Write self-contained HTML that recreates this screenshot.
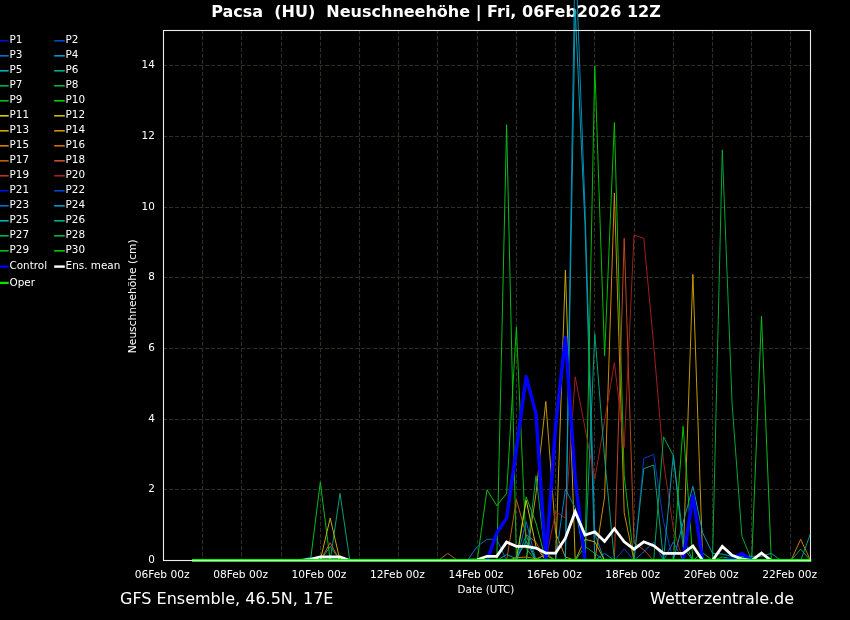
<!DOCTYPE html><html><head><meta charset="utf-8"><title>Pacsa (HU) Neuschneehöhe</title>
<style>html,body{margin:0;padding:0;background:#000;}svg{display:block}text{font-family:"DejaVu Sans","Liberation Sans",sans-serif;fill:#fff}</style></head><body>
<svg width="850" height="620" viewBox="0 0 850 620">
<rect width="850" height="620" fill="#000"/>
<path d="M202.5 560.5V30.5M241.5 560.5V30.5M281.5 560.5V30.5M320.5 560.5V30.5M359.5 560.5V30.5M398.5 560.5V30.5M437.5 560.5V30.5M477.5 560.5V30.5M516.5 560.5V30.5M555.5 560.5V30.5M594.5 560.5V30.5M634.5 560.5V30.5M673.5 560.5V30.5M712.5 560.5V30.5M751.5 560.5V30.5M790.5 560.5V30.5" stroke="#2e2e21" stroke-width="1.1" stroke-dasharray="4.15 1.85" stroke-dashoffset="1.4" fill="none"/>
<path d="M163.5 489.5H810.5M163.5 419.5H810.5M163.5 348.5H810.5M163.5 277.5H810.5M163.5 207.5H810.5M163.5 136.5H810.5M163.5 65.5H810.5" stroke="#2e2e21" stroke-width="1.1" stroke-dasharray="4.15 1.85" stroke-dashoffset="0.5" fill="none"/>
<text x="436" y="17" font-size="16" font-weight="bold" text-anchor="middle" xml:space="preserve">Pacsa  (HU)  Neuschneehöhe | Fri, 06Feb2026 12Z</text>
<g fill="none" stroke-width="0.95" stroke-linejoin="miter" stroke-linecap="square">
<path d="M310.5 560.5 L320.3 482.1 L330.2 560.5" stroke="#08c420"/>
<path d="M330.2 560.5 L340.0 493.4 L349.8 560.5" stroke="#00a880"/>
<path d="M320.3 560.5 L330.2 518.1 L340.0 560.5" stroke="#d0b000"/>
<path d="M320.3 560.5 L330.2 542.8 L340.0 560.5" stroke="#c86010"/>
<path d="M320.3 560.5 L330.2 546.4 L340.0 560.5" stroke="#00ac50"/>
<path d="M300.7 560.5 L310.5 557.0 L320.3 560.5" stroke="#0070d0"/>
<path d="M438.0 560.5 L447.8 553.4 L457.6 560.5" stroke="#c86010"/>
<path d="M496.8 560.5 L506.6 124.8 L516.4 560.5" stroke="#08c420"/>
<path d="M477.2 560.5 L487.0 489.8 L496.8 505.7 L506.6 493.4 L516.4 327.3 L526.2 548.5 L536.0 560.5" stroke="#00c800"/>
<path d="M526.2 560.5 L536.0 493.4 L545.8 401.5 L555.6 532.9 L565.4 557.0 L575.2 560.5" stroke="#cca000"/>
<path d="M555.6 560.5 L565.4 270.1 L575.2 560.5" stroke="#d0b000"/>
<path d="M565.4 560.5 L575.2 -54.3 L585.0 208.2 L594.8 534.0 L604.6 560.5" stroke="#008cc8"/>
<path d="M565.4 560.5 L575.2 9.3 L585.0 224.8 L594.8 560.5" stroke="#00a4b4"/>
<path d="M585.0 560.5 L594.8 65.8 L604.6 355.6 L614.4 122.4 L624.2 475.7 L634.0 560.5" stroke="#00c800"/>
<path d="M594.8 560.5 L604.6 496.9 L614.4 193.0 L624.2 512.8 L634.0 560.5" stroke="#d89000"/>
<path d="M614.4 560.5 L624.2 238.3 L634.0 542.8 L643.8 549.9 L653.7 560.5" stroke="#c84820"/>
<path d="M545.8 560.5 L555.6 511.7 L565.4 518.1 L575.2 376.8 L585.0 428.0 L594.8 479.2 L604.6 420.9 L614.4 362.6 L624.2 447.4 L634.0 235.1 L643.8 238.3 L653.7 345.0 L663.5 461.6 L673.3 528.7 L683.1 560.5" stroke="#a82020"/>
<path d="M585.0 560.5 L594.8 333.7 L604.6 458.0 L614.4 560.5" stroke="#00a880"/>
<path d="M683.1 560.5 L692.9 274.3 L702.7 560.5" stroke="#cca000"/>
<path d="M712.5 560.5 L722.3 149.9 L732.1 404.0 L741.9 536.1 L751.7 560.5" stroke="#00b038"/>
<path d="M751.7 560.5 L761.5 316.0 L771.3 560.5" stroke="#08c420"/>
<path d="M614.4 560.5 L624.2 548.8 L634.0 560.5 L643.8 458.4 L653.7 454.5 L663.5 521.6 L673.3 560.5" stroke="#0040d0"/>
<path d="M634.0 560.5 L643.8 468.6 L653.7 465.1 L663.5 560.5" stroke="#00a880"/>
<path d="M653.7 560.5 L663.5 436.8 L673.3 455.6 L683.1 537.9 L692.9 560.5" stroke="#00ac50"/>
<path d="M663.5 560.5 L673.3 454.9 L683.1 547.1 L692.9 560.5" stroke="#00a4b4"/>
<path d="M673.3 560.5 L683.1 522.7 L692.9 486.3 L702.7 532.9 L712.5 553.4 L722.3 554.1 L732.1 556.3 L741.9 556.3 L751.7 556.3 L761.5 556.3 L771.3 553.4 L781.1 560.5" stroke="#00a4b4"/>
<path d="M673.3 560.5 L683.1 426.2 L692.9 560.5" stroke="#00c800"/>
<path d="M692.9 560.5 L702.7 552.7 L712.5 560.5" stroke="#08c420"/>
<path d="M467.4 560.5 L477.2 546.4 L487.0 539.3 L496.8 539.3 L506.6 560.5" stroke="#0070d0"/>
<path d="M634.0 560.5 L643.8 551.7 L653.7 542.1 L663.5 560.5 L673.3 542.1 L683.1 560.5" stroke="#0070d0"/>
<path d="M790.9 560.5 L800.7 539.3 L810.5 560.5" stroke="#d88000"/>
<path d="M790.9 560.5 L800.7 549.2 L810.5 560.5" stroke="#00ac50"/>
<path d="M800.7 560.5 L810.5 533.6" stroke="#00a880"/>
<path d="M506.6 560.5 L516.4 499.7 L526.2 534.7 L536.0 542.1 L545.8 560.5" stroke="#c86010"/>
<path d="M516.4 560.5 L526.2 496.9 L536.0 523.0 L545.8 560.5" stroke="#08c420"/>
<path d="M526.2 560.5 L536.0 475.7 L545.8 560.5" stroke="#00ac50"/>
<path d="M516.4 560.5 L526.2 500.4 L536.0 546.4 L545.8 560.5" stroke="#d0cc00"/>
<path d="M516.4 560.5 L526.2 521.6 L536.0 560.5" stroke="#0070d0"/>
<path d="M516.4 560.5 L526.2 535.1 L536.0 560.5" stroke="#00a880"/>
<path d="M496.8 560.5 L506.6 554.5 L516.4 558.7 L526.2 541.1 L536.0 560.5 L545.8 553.4 L555.6 560.5" stroke="#00a4b4"/>
<path d="M506.6 560.5 L516.4 557.7 L526.2 557.0 L536.0 558.7 L545.8 555.2 L555.6 560.5" stroke="#d88000"/>
<path d="M555.6 560.5 L565.4 489.1 L575.2 507.9 L585.0 560.5" stroke="#008cc8"/>
<path d="M575.2 560.5 L585.0 539.3 L594.8 541.8 L604.6 560.5" stroke="#d0b000"/>
<path d="M575.2 560.5 L585.0 546.4 L594.8 553.4 L604.6 560.5" stroke="#00b038"/>
<path d="M594.8 560.5 L604.6 553.4 L614.4 560.5" stroke="#008cc8"/>
<path d="M712.5 560.5 L722.3 557.0 L732.1 558.7 L741.9 557.0 L751.7 560.5" stroke="#00ac50"/>
</g>
<path d="M487.0 560.5 L496.8 532.9 L506.6 518.1 L516.4 449.2 L526.2 376.8 L536.0 413.9 L545.8 560.5 L555.6 426.2 L565.4 337.2 L575.2 479.2 L585.0 560.5M683.1 560.5 L692.9 495.8 L702.7 560.5M722.3 560.5 L732.1 558.7 L741.9 553.4 L751.7 560.5" fill="none" stroke="#0000ff" stroke-width="3.4" stroke-linejoin="round"/>
<path d="M300.7 560.5 L310.5 559.4 L320.3 557.0 L330.2 557.0 L340.0 557.0 L349.8 560.5M467.4 560.5 L477.2 559.8 L487.0 556.3 L496.8 556.3 L506.6 542.1 L516.4 546.4 L526.2 546.4 L536.0 548.1 L545.8 553.1 L555.6 553.1 L565.4 538.2 L575.2 511.7 L585.0 535.1 L594.8 531.9 L604.6 541.4 L614.4 528.7 L624.2 541.8 L634.0 549.2 L643.8 541.8 L653.7 545.7 L663.5 553.4 L673.3 553.4 L683.1 553.4 L692.9 546.0 L702.7 560.5 L712.5 560.5 L722.3 546.4 L732.1 555.2 L741.9 559.1 L751.7 560.5 L761.5 553.1 L771.3 560.5 L781.1 560.5" fill="none" stroke="#ffffff" stroke-width="2.8" stroke-linejoin="miter"/>
<path d="M192.0 560.5H811.3" fill="none" stroke="#00f000" stroke-width="3.2"/>
<rect x="163.5" y="30.5" width="647.0" height="530.0" fill="none" stroke="#ececec" stroke-width="1.1"/>
<text x="154.8" y="563.1" font-size="10.4" text-anchor="end">0</text>
<text x="154.8" y="492.1" font-size="10.4" text-anchor="end">2</text>
<text x="154.8" y="422.1" font-size="10.4" text-anchor="end">4</text>
<text x="154.8" y="351.1" font-size="10.4" text-anchor="end">6</text>
<text x="154.8" y="280.1" font-size="10.4" text-anchor="end">8</text>
<text x="154.8" y="210.1" font-size="10.4" text-anchor="end">10</text>
<text x="154.8" y="139.1" font-size="10.4" text-anchor="end">12</text>
<text x="154.8" y="68.1" font-size="10.4" text-anchor="end">14</text>
<text x="162.2" y="578" font-size="10.65" text-anchor="middle">06Feb 00z</text>
<text x="240.6" y="578" font-size="10.65" text-anchor="middle">08Feb 00z</text>
<text x="319.0" y="578" font-size="10.65" text-anchor="middle">10Feb 00z</text>
<text x="397.5" y="578" font-size="10.65" text-anchor="middle">12Feb 00z</text>
<text x="475.9" y="578" font-size="10.65" text-anchor="middle">14Feb 00z</text>
<text x="554.3" y="578" font-size="10.65" text-anchor="middle">16Feb 00z</text>
<text x="632.7" y="578" font-size="10.65" text-anchor="middle">18Feb 00z</text>
<text x="711.2" y="578" font-size="10.65" text-anchor="middle">20Feb 00z</text>
<text x="789.6" y="578" font-size="10.65" text-anchor="middle">22Feb 00z</text>
<text x="486" y="593" font-size="10.4" text-anchor="middle">Date (UTC)</text>
<text transform="translate(136,296.3) rotate(-90)" font-size="10.65" text-anchor="middle">Neuschneehöhe (cm)</text>
<text x="120" y="604" font-size="16">GFS Ensemble, 46.5N, 17E</text>
<text x="650" y="604" font-size="16">Wetterzentrale.de</text>
<path d="M-2 40.8H8.7" stroke="#0010c8" stroke-width="1.6"/>
<text x="9.5" y="43.4" font-size="10.4">P1</text>
<path d="M54.2 40.8H64.8" stroke="#0048d0" stroke-width="1.6"/>
<text x="65.6" y="43.4" font-size="10.4">P2</text>
<path d="M-2 55.8H8.7" stroke="#0070d0" stroke-width="1.6"/>
<text x="9.5" y="58.4" font-size="10.4">P3</text>
<path d="M54.2 55.8H64.8" stroke="#0098d0" stroke-width="1.6"/>
<text x="65.6" y="58.4" font-size="10.4">P4</text>
<path d="M-2 70.8H8.7" stroke="#00b0c0" stroke-width="1.6"/>
<text x="9.5" y="73.4" font-size="10.4">P5</text>
<path d="M54.2 70.8H64.8" stroke="#00b088" stroke-width="1.6"/>
<text x="65.6" y="73.4" font-size="10.4">P6</text>
<path d="M-2 85.8H8.7" stroke="#00b050" stroke-width="1.6"/>
<text x="9.5" y="88.4" font-size="10.4">P7</text>
<path d="M54.2 85.8H64.8" stroke="#00b838" stroke-width="1.6"/>
<text x="65.6" y="88.4" font-size="10.4">P8</text>
<path d="M-2 100.8H8.7" stroke="#00c020" stroke-width="1.6"/>
<text x="9.5" y="103.4" font-size="10.4">P9</text>
<path d="M54.2 100.8H64.8" stroke="#00d000" stroke-width="1.6"/>
<text x="65.6" y="103.4" font-size="10.4">P10</text>
<path d="M-2 115.8H8.7" stroke="#d8d000" stroke-width="1.6"/>
<text x="9.5" y="118.4" font-size="10.4">P11</text>
<path d="M54.2 115.8H64.8" stroke="#d8b800" stroke-width="1.6"/>
<text x="65.6" y="118.4" font-size="10.4">P12</text>
<path d="M-2 130.8H8.7" stroke="#d8a800" stroke-width="1.6"/>
<text x="9.5" y="133.4" font-size="10.4">P13</text>
<path d="M54.2 130.8H64.8" stroke="#d89000" stroke-width="1.6"/>
<text x="65.6" y="133.4" font-size="10.4">P14</text>
<path d="M-2 145.8H8.7" stroke="#d88000" stroke-width="1.6"/>
<text x="9.5" y="148.4" font-size="10.4">P15</text>
<path d="M54.2 145.8H64.8" stroke="#d07000" stroke-width="1.6"/>
<text x="65.6" y="148.4" font-size="10.4">P16</text>
<path d="M-2 160.8H8.7" stroke="#c86000" stroke-width="1.6"/>
<text x="9.5" y="163.4" font-size="10.4">P17</text>
<path d="M54.2 160.8H64.8" stroke="#c85028" stroke-width="1.6"/>
<text x="65.6" y="163.4" font-size="10.4">P18</text>
<path d="M-2 175.8H8.7" stroke="#b83028" stroke-width="1.6"/>
<text x="9.5" y="178.4" font-size="10.4">P19</text>
<path d="M54.2 175.8H64.8" stroke="#a82020" stroke-width="1.6"/>
<text x="65.6" y="178.4" font-size="10.4">P20</text>
<path d="M-2 190.8H8.7" stroke="#0010c8" stroke-width="1.6"/>
<text x="9.5" y="193.4" font-size="10.4">P21</text>
<path d="M54.2 190.8H64.8" stroke="#0048d0" stroke-width="1.6"/>
<text x="65.6" y="193.4" font-size="10.4">P22</text>
<path d="M-2 205.8H8.7" stroke="#0070d0" stroke-width="1.6"/>
<text x="9.5" y="208.4" font-size="10.4">P23</text>
<path d="M54.2 205.8H64.8" stroke="#0098d0" stroke-width="1.6"/>
<text x="65.6" y="208.4" font-size="10.4">P24</text>
<path d="M-2 220.8H8.7" stroke="#00b0c0" stroke-width="1.6"/>
<text x="9.5" y="223.4" font-size="10.4">P25</text>
<path d="M54.2 220.8H64.8" stroke="#00b088" stroke-width="1.6"/>
<text x="65.6" y="223.4" font-size="10.4">P26</text>
<path d="M-2 235.8H8.7" stroke="#00b050" stroke-width="1.6"/>
<text x="9.5" y="238.4" font-size="10.4">P27</text>
<path d="M54.2 235.8H64.8" stroke="#00b838" stroke-width="1.6"/>
<text x="65.6" y="238.4" font-size="10.4">P28</text>
<path d="M-2 250.8H8.7" stroke="#00c020" stroke-width="1.6"/>
<text x="9.5" y="253.4" font-size="10.4">P29</text>
<path d="M54.2 250.8H64.8" stroke="#00d000" stroke-width="1.6"/>
<text x="65.6" y="253.4" font-size="10.4">P30</text>
<path d="M-2 266.6H8.7" stroke="#0000ff" stroke-width="2.2"/><text x="9.5" y="269.2" font-size="10.4">Control</text>
<path d="M54.2 266.6H64.8" stroke="#fff" stroke-width="2.4"/><text x="65.6" y="269.2" font-size="10.4">Ens. mean</text>
<path d="M-2 282.9H8.7" stroke="#00e800" stroke-width="2.2"/><text x="9.5" y="285.5" font-size="10.4">Oper</text>
</svg></body></html>
